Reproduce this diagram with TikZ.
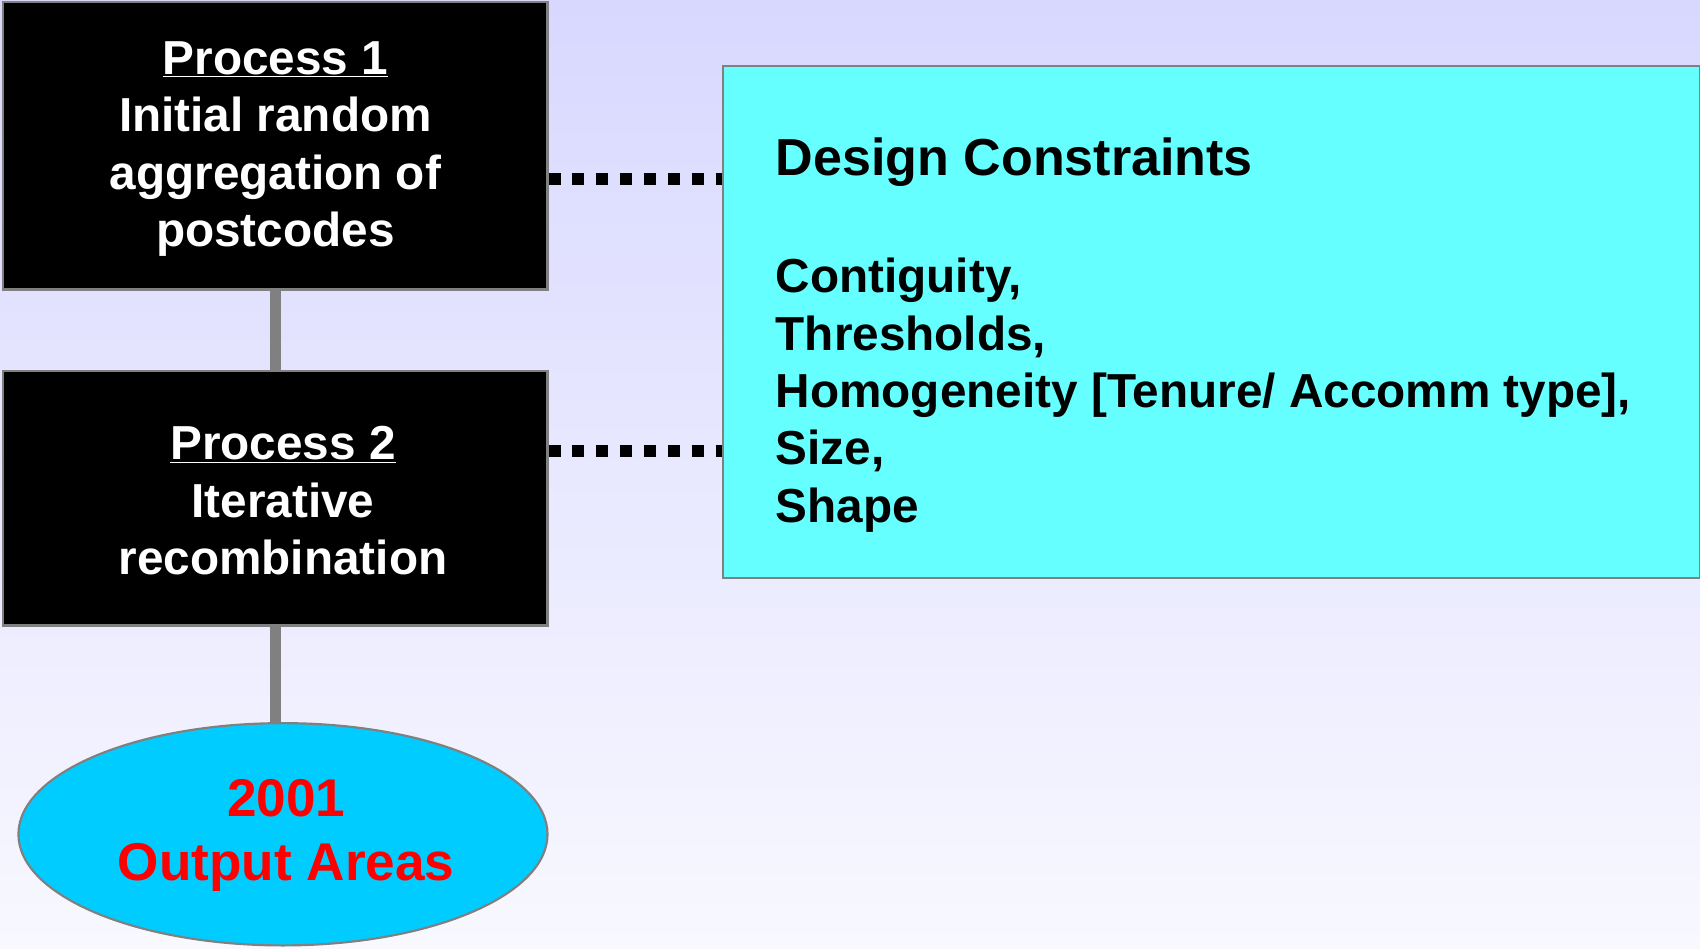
\documentclass[tikz,border=0pt]{standalone}
\usepackage{fontspec}
\setmainfont{Liberation Sans}
\usetikzlibrary{shapes.geometric}
\definecolor{bgtop}{RGB}{216,216,255}
\definecolor{bgbottom}{RGB}{248,248,255}
\definecolor{edgegray}{RGB}{128,128,128}
\definecolor{constraintcyan}{RGB}{102,255,255}
\definecolor{areablue}{RGB}{0,204,255}
\definecolor{areared}{RGB}{255,0,0}
\tikzset{
  procbox/.style={draw=edgegray, line width=2pt, fill=black, inner sep=0pt, minimum width=502pt},
  proctext/.style={text=white, align=center, font=\fontsize{44}{53}\selectfont\bfseries},
  dcbox/.style={draw=edgegray, line width=2pt, fill=constraintcyan, inner sep=0pt},
  dctext/.style={text=black, align=left, font=\fontsize{44}{53}\selectfont\bfseries},
  areabox/.style={ellipse, draw=edgegray, line width=2pt, fill=areablue, inner sep=0pt},
  areatext/.style={text=areared, align=center, font=\fontsize{49}{59}\selectfont\bfseries},
  link/.style={edgegray, line width=10pt},
  dotline/.style={black, line width=11pt, dash pattern=on 11pt off 11pt}
}
\begin{document}
\begin{tikzpicture}[x=1pt, y=-1pt]
    \useasboundingbox (0,0) rectangle (1568,875);
    \shade[top color=bgtop, bottom color=bgbottom] (0,0) rectangle (1568,875);
    % boxes
    \node[procbox, minimum height=265pt] (box1) at (254,134.5) {};
    \node[procbox, minimum height=235pt] (box2) at (254,459.5) {};
    \node[areabox, minimum width=488pt, minimum height=205pt] (oa) at (261,769.5) {};
    \node[dcbox, minimum width=901pt, minimum height=472pt] (dc) at (1117.5,297) {};
    % texts
    \node[proctext] (t1) at (254,137.5) {\underline{Process 1}\\Initial random\\aggregation of\\postcodes};
    \node[proctext] (t2) at (261,462) {\underline{Process 2}\\Iterative\\recombination};
    \node[areatext] (oat) at (264,770.5) {2001\\Output Areas};
    \node[dctext, anchor=west] (dct) at (712,309) {{\fontsize{48}{58}\selectfont Design Constraints}\\[55pt]Contiguity,\\Thresholds,\\Homogeneity [Tenure/ Accomm type],\\Size,\\Shape};
    % connectors
    \draw[link] (box1) -- (box2);
    \draw[link] (box2.south) -- (box2.south |- oa.north);
    \coordinate (d1) at ([yshift=-31pt]box1.east);
    \coordinate (d2) at ([yshift=43.5pt]box2.east);
    \draw[dotline] (d1) -- (d1 -| dc.west);
    \draw[dotline] (d2) -- (d2 -| dc.west);
\end{tikzpicture}
\end{document}
